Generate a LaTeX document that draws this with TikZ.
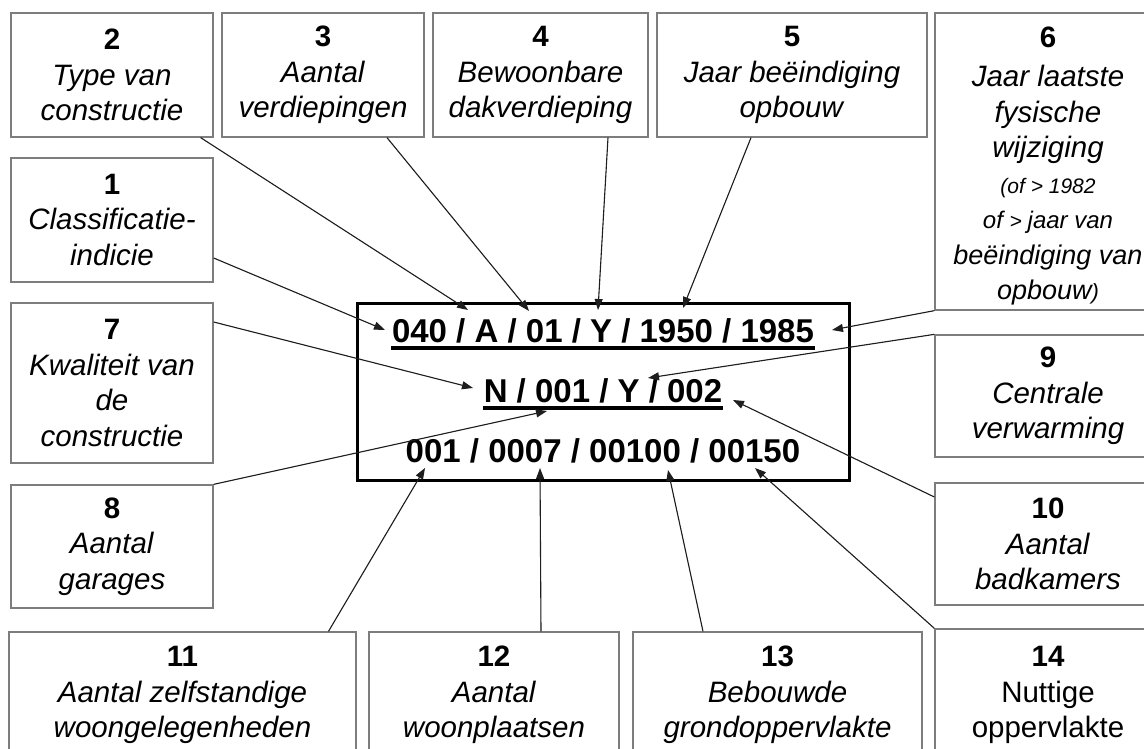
\documentclass[tikz,border=0pt]{standalone}
\usepackage{fontspec}
\setmainfont{Liberation Sans}
\usetikzlibrary{arrows.meta,calc}
\definecolor{boxgray}{RGB}{125,125,125}
\definecolor{linegray}{RGB}{30,30,30}
\begin{document}
\begin{tikzpicture}[x=1pt,y=-1pt,
  lab/.style={draw=boxgray, line width=1.3pt, align=center, inner sep=0pt,
    font=\fontsize{29.5}{35.5}\selectfont, text=black},
  ptr/.style={-{Triangle[length=11pt,width=8pt]}, line width=1.1pt, draw=linegray, fill=linegray},
  codeline/.style={font=\fontsize{33}{40}\selectfont\bfseries, inner sep=0pt, anchor=base},
  ul/.style={line width=4pt, draw=black}
]
\useasboundingbox (0,0) rectangle (1144,749);
\fill[white] (0,0) rectangle (1144,749);
\clip (0,0) rectangle (1144,749);

% top row
\node[lab, minimum width=202, minimum height=124] (b2) at (112,75)
  {\textbf{2}\\\textit{Type van}\\\textit{constructie}};
\node[lab, minimum width=202, minimum height=124] (b3) at (323,75)
  {\textbf{3}\\\textit{Aantal}\\\textit{verdiepingen}};
\node[lab, minimum width=215, minimum height=124] (b4) at (540.5,75)
  {\textbf{4}\\\textit{Bewoonbare}\\\textit{dakverdieping}};
\node[lab, minimum width=270, minimum height=124] (b5) at (792,75)
  {\textbf{5}\\\textit{Jaar beëindiging}\\\textit{opbouw}};
\node[lab, minimum width=226, minimum height=297] (b6) at (1048,161.5)
  {\rule{0pt}{30pt}\textbf{6}\\[4pt]\textit{Jaar laatste}\\\textit{fysische}\\\textit{wijziging}\\
   {\itshape\fontsize{21}{35.5}\selectfont (of > 1982}\\
   {\itshape\fontsize{24}{35.5}\selectfont of \fontsize{21}{35.5}\selectfont> \fontsize{24}{35.5}\selectfont jaar van}\\
   {\itshape\fontsize{27}{35.5}\selectfont beëindiging van}\\
   {\itshape\fontsize{27}{35.5}\selectfont opbouw\fontsize{22}{35.5}\selectfont)}};

% left column
\node[lab, minimum width=202, minimum height=124] (b1) at (112,220)
  {\textbf{1}\\\textit{Classificatie-}\\\textit{indicie}};
\node[lab, minimum width=202, minimum height=160] (b7) at (112,383)
  {\textbf{7}\\\textit{Kwaliteit van}\\\textit{de}\\\textit{constructie}};
\node[lab, minimum width=202, minimum height=123] (b8) at (112,546.5)
  {\textbf{8}\\\textit{Aantal}\\\textit{garages}};

% right column
\node[lab, minimum width=226, minimum height=122] (b9) at (1048,396)
  {\textbf{9}\\\textit{Centrale}\\\textit{verwarming}};
\node[lab, minimum width=226, minimum height=122] (b10) at (1048,544)
  {\textbf{10}\\\textit{Aantal}\\\textit{badkamers}};

% bottom row
\node[lab, minimum width=347, minimum height=126] (b11) at (182.5,695)
  {\textbf{11}\\\textit{Aantal zelfstandige}\\\textit{woongelegenheden}};
\node[lab, minimum width=250, minimum height=126] (b12) at (494,695)
  {\textbf{12}\\\textit{Aantal}\\\textit{woonplaatsen}};
\node[lab, minimum width=289, minimum height=126] (b13) at (777.5,695)
  {\textbf{13}\\\textit{Bebouwde}\\\textit{grondoppervlakte}};
\node[lab, minimum width=226, minimum height=132] (b14) at (1048,695)
  {\textbf{14}\\Nuttige\\oppervlakte};

% central code box
\node[draw=black, line width=3pt, minimum width=492, minimum height=177] (code) at (603,391.5) {};
\node[codeline] (l1) at (603,342) {040 / A / 01 / Y / 1950 / 1985};
\node[codeline] (l2) at (603,402) {N / 001 / Y / 002};
\node[codeline] (l3) at (603,462) {001 / 0007 / 00100 / 00150};
\draw[ul] ($(l1.base west)+(-1,6)$) -- ($(l1.base east)+(1,6)$);
\draw[ul] ($(l2.base west)+(-1,6)$) -- ($(l2.base east)+(1,6)$);

% arrow targets
\coordinate (p1) at (385,330);
\coordinate (p2) at (468,310);
\coordinate (p3) at (529,311);
\coordinate (p4) at (598,310);
\coordinate (p5) at (683,308);
\coordinate (p6) at (832,330);
\coordinate (p7) at (473,388);
\coordinate (p8) at (547,411);
\coordinate (p9) at (648,378);
\coordinate (p10) at (733,400);
\coordinate (p11) at (425,468);
\coordinate (p12) at (540,468);
\coordinate (p13) at (668,470);
\coordinate (p14) at (755,468);

% arrows
\draw[ptr] ($(b1.east)+(0,38)$) -- (p1);
\draw[ptr] ($(b2.south east)+(-13,0)$) -- (p2);
\draw[ptr] ($(b3.south)+(64,0)$) -- (p3);
\draw[ptr] ($(b4.south)+(67.5,0)$) -- (p4);
\draw[ptr] ($(b5.south)+(-41,0)$) -- (p5);
\draw[ptr] (b6.south west) -- (p6);
\draw[ptr] ($(b7.east)+(0,-61)$) -- (p7);
\draw[ptr] (b8.north east) -- (p8);
\draw[ptr] (b9.north west) -- (p9);
\draw[ptr] ($(b10.west)+(0,-47)$) -- (p10);
\draw[ptr] ($(b11.north)+(146,0)$) -- (p11);
\draw[ptr] ($(b12.north)+(47,0)$) -- (p12);
\draw[ptr] ($(b13.north)+(-74.5,0)$) -- (p13);
\draw[ptr] (b14.north west) -- (p14);
\end{tikzpicture}
\end{document}
